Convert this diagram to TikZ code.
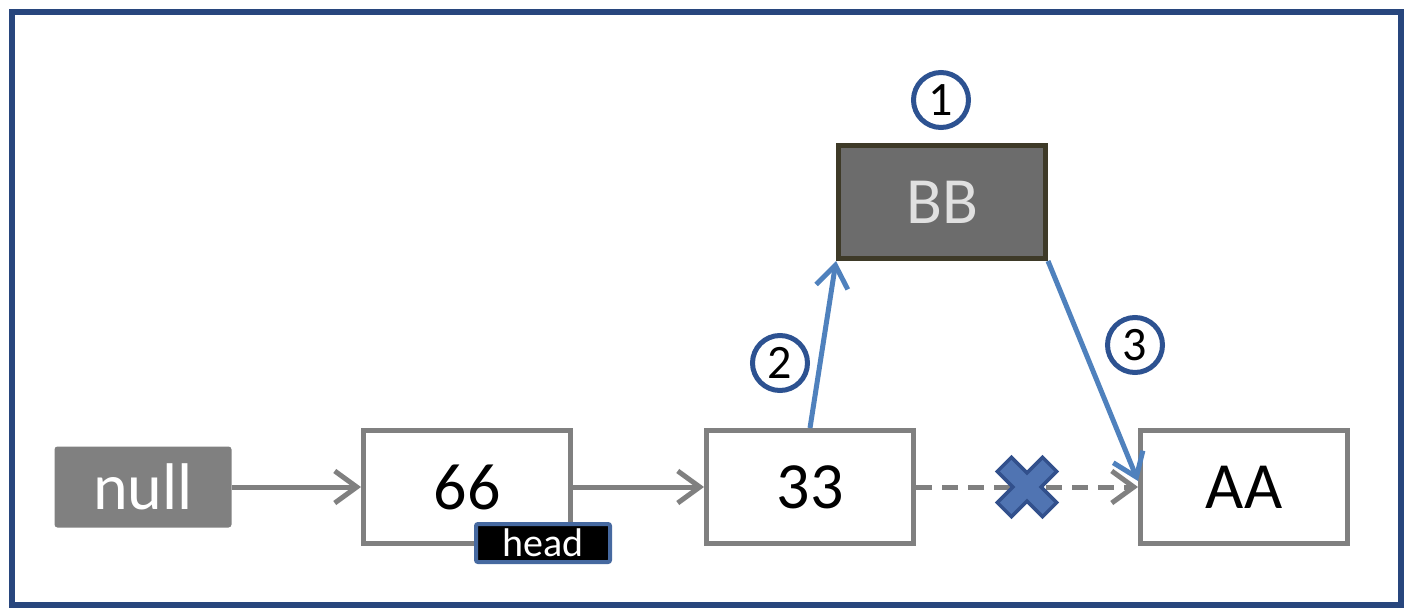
\documentclass[tikz,border=0pt]{standalone}
\usepackage{fontspec}
\setmainfont{Carlito}
\usetikzlibrary{arrows.meta,calc}
\definecolor{frameblue}{RGB}{40,70,125}
\definecolor{lgray}{RGB}{128,128,128}
\definecolor{bbfill}{RGB}{108,108,108}
\definecolor{bbdraw}{RGB}{62,58,40}
\definecolor{arrowblue}{RGB}{79,129,189}
\definecolor{circblue}{RGB}{45,82,145}
\definecolor{xfill}{RGB}{80,116,178}
\definecolor{xdraw}{RGB}{50,80,140}
\definecolor{headdraw}{RGB}{70,105,160}
\tikzset{
  listbox/.style={draw=lgray, line width=5pt, fill=white, minimum width=207pt, minimum height=113pt, inner sep=0pt, font=\fontsize{66}{70}\selectfont},
  nullbox/.style={fill=lgray, rounded corners=3pt, minimum width=177pt, minimum height=81pt, inner sep=0pt, text=white, font=\fontsize{66}{70}\selectfont},
  bbbox/.style={draw=bbdraw, line width=5pt, fill=bbfill, minimum width=207pt, minimum height=113pt, inner sep=0pt, text=white!88!black, font=\fontsize{66}{70}\selectfont},
  headbox/.style={draw=headdraw, line width=4pt, fill=black, rounded corners=2pt, minimum width=134pt, minimum height=38pt, inner sep=0pt, text=white, font=\fontsize{40}{42}\selectfont},
  numcirc/.style={circle, draw=circblue, line width=5pt, fill=white, minimum size=55pt, inner sep=0pt, font=\fontsize{48}{50}\selectfont},
  grayarrow/.style={draw=lgray, line width=5pt, -{Straight Barb[length=22pt, width=32pt, line width=5pt]}},
  bluearrow/.style={draw=arrowblue, line width=5pt, -{Straight Barb[length=22pt, width=32pt, line width=5pt]}},
}
\begin{document}
\begin{tikzpicture}[x=1pt, y=-1pt]
\useasboundingbox (0,0) rectangle (1406,610);
\fill[white] (0,0) rectangle (1406,610);
\draw[frameblue, line width=6pt] (12,12) rectangle (1401,605);
% nodes
\node[nullbox] (null) at (143,487) {null};
\node[listbox] (n66) at (467,487) {66};
\node[listbox] (n33) at (810,487) {33};
\node[listbox] (nAA) at (1244,487) {AA};
\node[bbbox] (nBB) at (942,202) {BB};
\node[headbox] (head) at (543,543) {head};
\node[numcirc] (c1) at (941,100) {1};
\node[numcirc] (c2) at (780,363) {2};
\node[numcirc] (c3) at (1135,345) {3};
% connectors
\draw[grayarrow] (null.east) -- (n66.west);
\draw[grayarrow] (n66.east) -- (n33.west);
\draw[grayarrow, dash pattern=on 16pt off 10pt] (n33.east) -- (nAA.west);
\draw[bluearrow] (n33.north) -- (nBB.south west);
\draw[bluearrow] (nBB.south east) -- ($(nAA.west)+(0,-6)$);
% cross
\node (xmark) at (1027,487) {};
\fill[xfill, draw=xdraw, line width=3.5pt, rotate around={45:(xmark.center)}]
  ($(xmark.center)+(-10,-32)$) -- ($(xmark.center)+(10,-32)$) -- ($(xmark.center)+(10,-10)$) --
  ($(xmark.center)+(32,-10)$) -- ($(xmark.center)+(32,10)$) -- ($(xmark.center)+(10,10)$) --
  ($(xmark.center)+(10,32)$) -- ($(xmark.center)+(-10,32)$) -- ($(xmark.center)+(-10,10)$) --
  ($(xmark.center)+(-32,10)$) -- ($(xmark.center)+(-32,-10)$) -- ($(xmark.center)+(-10,-10)$) -- cycle;
\end{tikzpicture}
\end{document}
